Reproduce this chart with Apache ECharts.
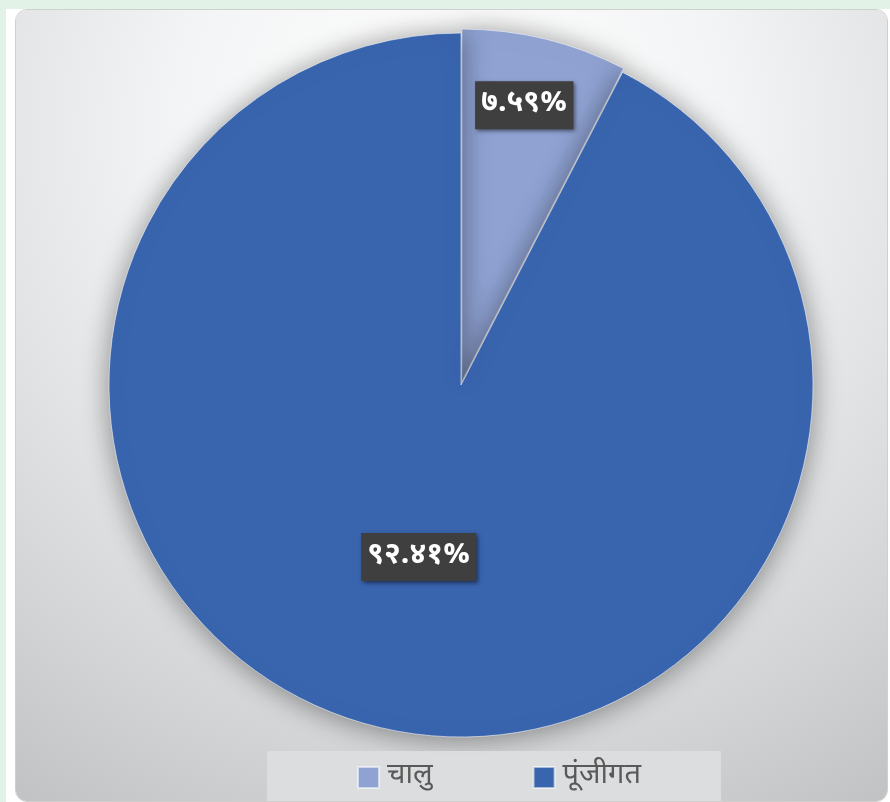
<!DOCTYPE html>
<html>
<head>
<meta charset="utf-8">
<script src="https://cdn.jsdelivr.net/npm/echarts@6/dist/echarts.min.js"></script>
<style>
html,body{margin:0;padding:0;width:890px;height:802px;background:#E2F2E6;overflow:hidden;}
#white{position:absolute;left:6px;top:9px;width:884px;height:793px;background:#ffffff;}
#chart{position:absolute;left:15px;top:9px;width:873px;height:793px;border-radius:12px;overflow:hidden;box-sizing:border-box;border:1px solid #cfcfcf;}
</style>
</head>
<body>
<div id="white"></div>
<div id="chart"></div>
<script>
const categories = ['चालु', 'पूंजीगत'];
const values = [7.59, 92.41];
const colors = ['#8FA2D2', '#3964AE'];

const devDigits = ['०','१','२','३','४','५','६','७','८','९'];
function toDev(s){ return String(s).replace(/[0-9]/g, d => devDigits[+d]); }

const FONT = "'Noto Sans Devanagari','Lohit Devanagari','Noto Sans',sans-serif";
const chart = echarts.init(document.getElementById('chart'), null, {renderer:'canvas'});
const labelShift = [[20,-102],[0,-2]];

chart.setOption({
  backgroundColor: {
    type:'radial', x:0.5, y:0.15, r:1.0,
    colorStops:[
      {offset:0, color:'#ffffff'},
      {offset:0.35, color:'#f3f4f5'},
      {offset:0.6, color:'#e2e3e4'},
      {offset:0.8, color:'#d3d4d5'},
      {offset:1, color:'#c2c3c4'}
    ]
  },
  animation:false,
  legend:{
    data: categories,
    left: 251, top: 741,
    orient:'horizontal',
    icon:'rect',
    itemWidth:21, itemHeight:21,
    itemGap:100,
    padding:[12,80,14,90],
    backgroundColor:'rgba(220,221,222,0.95)',
    selectedMode:false,
    textStyle:{color:'#595959', fontSize:29, fontFamily:FONT, padding:[0,0,0,3]}
  },
  series:[{
    type:'pie',
    center:[445,375],
    radius:[0,352],
    startAngle:90,
    clockwise:true,
    selectedMode:'single',
    selectedOffset:4,
    emphasis:{disabled:true},
    itemStyle:{
      borderColor:'rgba(255,255,255,0.55)', borderWidth:1,
      shadowBlur:28, shadowColor:'rgba(0,0,0,0.42)', shadowOffsetY:2
    },
    label:{
      show:true, position:'inside',
      formatter: p => toDev(p.value.toFixed(2)) + '%',
      color:'#ffffff', fontSize:30, fontWeight:'bold', fontFamily:FONT,
      backgroundColor:'#3f3f3f', padding:[10,6,8,6],
      shadowBlur:4, shadowColor:'rgba(0,0,0,0.5)', shadowOffsetX:2, shadowOffsetY:2
    },
    labelLayout: p => ({dx: labelShift[p.dataIndex][0], dy: labelShift[p.dataIndex][1]}),
    labelLine:{show:false},
    data: categories.map((c,i)=>({
      name:c, value:values[i], selected: i===0,
      itemStyle:{color:colors[i]}
    }))
  }]
});
</script>
</body>
</html>
